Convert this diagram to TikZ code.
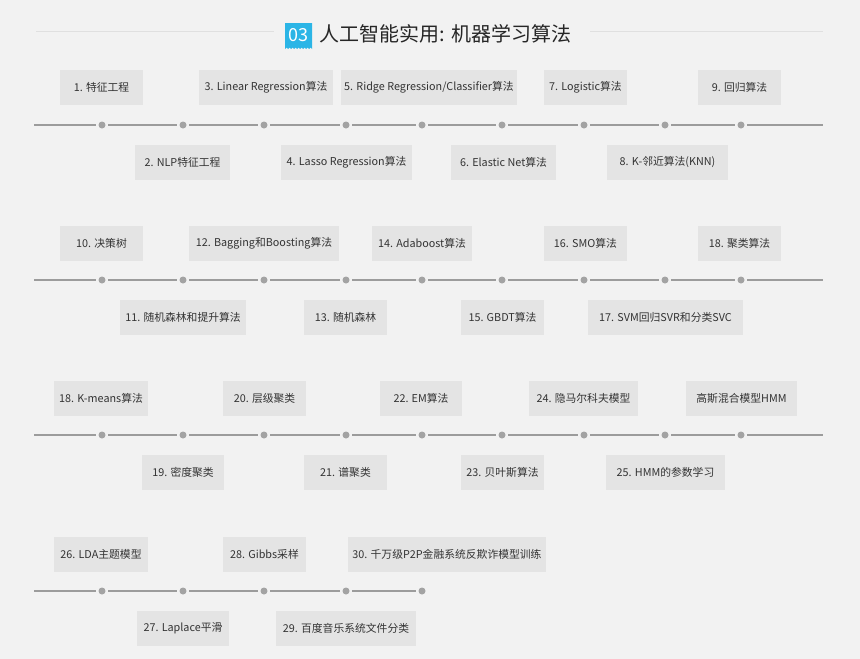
\documentclass[tikz,border=0pt]{standalone}
\usepackage{fontspec}
\setmainfont{Noto Sans CJK SC}
\definecolor{bgcol}{HTML}{F2F2F2}
\definecolor{cardcol}{HTML}{E4E4E4}
\definecolor{txtcol}{HTML}{333333}
\definecolor{railcol}{HTML}{9C9C9C}
\definecolor{dotcol}{HTML}{A3A3A3}
\definecolor{badgecol}{HTML}{2BB5E6}
\definecolor{hair}{HTML}{E0E0E0}
\tikzset{
  card/.style={fill=cardcol,text=txtcol,minimum height=35pt,inner sep=0pt,
    font=\fontsize{10.8}{12}\selectfont},
  dot/.style={circle,fill=dotcol,minimum size=7pt,inner sep=0pt,outer sep=2.5pt},
  rail/.style={draw=railcol,line width=1.2pt}
}
\begin{document}
\begin{tikzpicture}[x=1pt,y=-1pt]
\fill[bgcol] (0,0) rectangle (860,659);
\useasboundingbox (0,0) rectangle (860,659);
% title
\draw[hair,line width=1pt] (36,31)--(274,31);
\draw[hair,line width=1pt] (590,31)--(823,31);
\fill[badgecol] (285,23)--(312,23)--(312,49)
\foreach \k in {1,...,9}{--++(-1.5,-1.5)--++(-1.5,1.5)}--cycle;
\node[text=white,font=\fontsize{18}{20}\selectfont] (badge) at (298.5,35) {03};
\node[anchor=west,text=black!85,font=\fontsize{20}{24}\selectfont] (title) at (316,34) {人工智能实用: 机器学习算法};
% timelines
\foreach \r/\y in {1/125,2/280,3/435}{
  \coordinate (s\r) at (34,\y);
  \coordinate (e\r) at (823,\y);
  \foreach \x [count=\i] in {102,183,264,346,422,502,584,665,741}
    \node[dot] (d\r-\i) at (\x,\y) {};
  \draw[rail] (s\r)--(d\r-1);
  \foreach \i in {1,...,8}{
    \pgfmathtruncatemacro{\j}{\i+1}
    \draw[rail] (d\r-\i)--(d\r-\j);
  }
  \draw[rail] (d\r-9)--(e\r);
}
\coordinate (s4) at (34,591);
\foreach \x [count=\i] in {102,183,264,346,422}
  \node[dot] (d4-\i) at (\x,591) {};
\draw[rail] (s4)--(d4-1);
\foreach \i in {1,...,4}{
  \pgfmathtruncatemacro{\j}{\i+1}
  \draw[rail] (d4-\i)--(d4-\j);
}
% row 1
\foreach \x/\w/\t [count=\i] in {101.5/83/{1. 特征工程},266/134/{3. Linear Regression算法},
  429/176/{5. Ridge Regression/Classifier算法},585.5/83/{7. Logistic算法},739.5/83/{9. 回归算法}}
  \node[card,minimum width=\w] (u1-\i) at (\x,87) {\t};
\foreach \x/\w/\t [count=\i] in {182.5/95/{2. NLP特征工程},346.5/131/{4. Lasso Regression算法},
  503.5/105/{6. Elastic Net算法},667.5/121/{8. K-邻近算法(KNN)}}
  \node[card,minimum width=\w] (l1-\i) at (\x,162) {\t};
% row 2
\foreach \x/\w/\t [count=\i] in {101.5/83/{10. 决策树},264/150/{12. Bagging和Boosting算法},
  422/100/{14. Adaboost算法},585.5/83/{16. SMO算法},739.5/83/{18. 聚类算法}}
  \node[card,minimum width=\w] (u2-\i) at (\x,243.5) {\t};
\foreach \x/\w/\t [count=\i] in {183/126/{11. 随机森林和提升算法},345.5/83/{13. 随机森林},
  502.5/83/{15. GBDT算法},665.5/155/{17. SVM回归SVR和分类SVC}}
  \node[card,minimum width=\w] (l2-\i) at (\x,317) {\t};
% row 3
\foreach \x/\w/\t [count=\i] in {101/94/{18. K-means算法},264.5/83/{20. 层级聚类},
  421/82/{22. EM算法},583.5/109/{24. 隐马尔科夫模型},741.5/111/{高斯混合模型HMM}}
  \node[card,minimum width=\w] (u3-\i) at (\x,398.5) {\t};
\foreach \x/\w/\t [count=\i] in {183/82/{19. 密度聚类},345.5/83/{21. 谱聚类},
  502.5/83/{23. 贝叶斯算法},665.5/119/{25. HMM的参数学习}}
  \node[card,minimum width=\w] (l3-\i) at (\x,472) {\t};
% row 4
\foreach \x/\w/\t [count=\i] in {101/94/{26. LDA主题模型},264.5/83/{28. Gibbs采样},
  447/198/{30. 千万级P2P金融系统反欺诈模型训练}}
  \node[card,minimum width=\w] (u4-\i) at (\x,554.5) {\t};
\foreach \x/\w/\t [count=\i] in {183/92/{27. Laplace平滑},346/140/{29. 百度音乐系统文件分类}}
  \node[card,minimum width=\w] (l4-\i) at (\x,628.5) {\t};
\end{tikzpicture}
\end{document}
